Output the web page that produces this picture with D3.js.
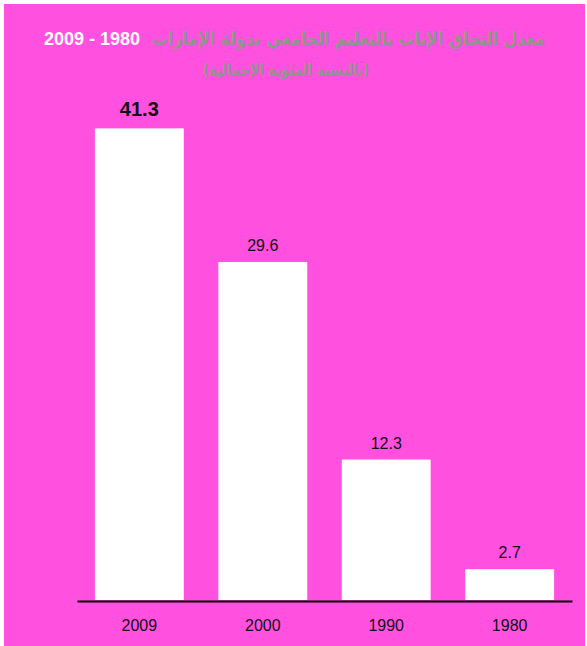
<!DOCTYPE html>
<html><head><meta charset="utf-8">
<script src="https://cdn.jsdelivr.net/npm/d3@7"></script>
<style>body{margin:0;background:#fff}svg{display:block}</style>
</head><body>
<svg id="c" width="587" height="646"></svg>
<script>
const years = ["2009", "2000", "1990", "1980"];
const values = [41.3, 29.6, 12.3, 2.7];
const titleAr = "معدل التحاق الإناث بالتعليم الجامعي بدولة الإمارات";
const titleYears = "2009 - 1980";
const subtitle = "(بالنسبة المئوية الإجمالية)";

const svg = d3.select("#c");
svg.append("rect").attr("x",4).attr("y",4).attr("width",581).attr("height",642).attr("fill","#ff50e0");

const x = d3.scaleBand().domain(years).range([77,572]).paddingInner(0.28).paddingOuter(0.145);
const y = d3.scaleLinear().domain([0,45]).range([600, 600-45*11.42]);

svg.selectAll("rect.bar").data(values).join("rect").attr("class","bar")
  .attr("x",(d,i)=>x(years[i])).attr("width",x.bandwidth())
  .attr("y",d=>y(d)).attr("height",d=>y(0)-y(d)).attr("fill","#fff");

svg.selectAll("text.val").data(values).join("text").attr("class","val")
  .attr("x",(d,i)=>x(years[i])+x.bandwidth()/2)
  .attr("y",(d,i)=>y(d)-(i===0?12:11))
  .attr("text-anchor","middle")
  .attr("font-family","Liberation Sans, Arial, sans-serif")
  .attr("font-size",(d,i)=>i===0?20:16)
  .attr("font-weight",(d,i)=>i===0?"bold":"normal")
  .attr("fill","#111")
  .text(d=>d.toFixed(1));

const axis = d3.axisBottom(x).tickSize(0).tickPadding(0);
const ag = svg.append("g").attr("transform","translate(0,601)").call(axis);
ag.select(".domain").attr("stroke","#000").attr("stroke-width",2);
ag.selectAll("text").attr("y",30).attr("dy",0)
  .attr("font-family","Liberation Sans, Arial, sans-serif").attr("font-size",16).attr("fill","#111");

// title
svg.append("text").attr("x",44).attr("y",45)
  .attr("font-family","Liberation Sans, Arial, sans-serif").attr("font-size",18).attr("font-weight","bold")
  .attr("fill","#fff").text(titleYears);

function fitted(txt, cx, cy, size, width) {
  const t = svg.append("text").attr("x",0).attr("y",0).attr("direction","rtl")
    .attr("text-anchor","middle")
    .attr("font-family","DejaVu Sans, sans-serif").attr("font-size",size).attr("font-weight","bold")
    .attr("fill","#8e9889").text(txt);
  const w = t.node().getComputedTextLength();
  const sx = width / w;
  t.attr("transform",`translate(${cx},${cy}) scale(${sx},1)`);
}
fitted(titleAr, (152+545)/2, 45, 18, 393);
fitted(subtitle, 286, 75, 16, 166);
</script>
</body></html>
